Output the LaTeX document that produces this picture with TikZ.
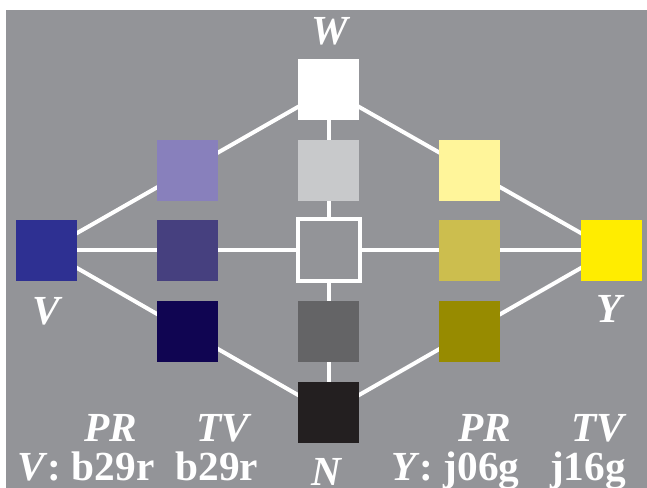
\documentclass[tikz,border=0pt]{standalone}
\usepackage{fontspec}
\setmainfont{Liberation Serif}
\usetikzlibrary{positioning,backgrounds}

\definecolor{bggray}{HTML}{939498}
\definecolor{vblue}{HTML}{2E3092}
\definecolor{vlight}{HTML}{8880BC}
\definecolor{vmid}{HTML}{46407F}
\definecolor{vdark}{HTML}{100552}
\definecolor{nlight}{HTML}{C8C9CB}
\definecolor{ndark}{HTML}{646466}
\definecolor{nblack}{HTML}{231F20}
\definecolor{ylight}{HTML}{FFF59A}
\definecolor{ymid}{HTML}{CCBE4E}
\definecolor{ydark}{HTML}{978B00}
\definecolor{yyellow}{HTML}{FFED00}

\begin{document}
\begin{tikzpicture}[x=0.75pt, y=-0.75pt,
    every node/.style={text=white, font=\fontsize{31}{36}\selectfont\bfseries},
    patch/.style={minimum size=45.75pt, inner sep=0pt, outer sep=0pt},
    hole/.style={draw=white, fill=bggray, line width=3pt, minimum size=46.5pt, inner sep=0pt},
    link/.style={draw=white, line width=3pt},
    lbl/.style={anchor=base, inner sep=0pt}
    ]
\useasboundingbox (0,0) rectangle (647,488);
% \draw[help lines] (0,0) grid (647,488);

% the three corners and the black point
\node[patch, fill=white]   (W) at (328.5,89.5)  {};
\node[patch, fill=vblue]   (V) at (46.5,250.5)  {};
\node[patch, fill=yyellow] (Y) at (611.5,250.5) {};
\node[patch, fill=nblack]  (N) at (328.5,412.5) {};

% blue side
\node[patch, fill=vlight] (v1) at (187.5,170.5) {};
\node[patch, fill=vmid]   (v2) at (187.5,250.5) {};
\node[patch, fill=vdark]  (v3) at (187.5,331.5) {};

% neutral column
\node[patch, fill=nlight] (n1) at (328.5,170.5) {};
\node[hole]               (n2) at (328.5,250.5) {};
\node[patch, fill=ndark]  (n3) at (328.5,331.5) {};

% yellow side
\node[patch, fill=ylight] (y1) at (469.5,170.5) {};
\node[patch, fill=ymid]   (y2) at (469.5,250.5) {};
\node[patch, fill=ydark]  (y3) at (469.5,331.5) {};

\begin{scope}[on background layer]
\fill[bggray] (6,10) rectangle (647,488);
\draw[link] (W.center) -- (V.center);
\draw[link] (W.center) -- (Y.center);
\draw[link] (V.center) -- (N.center);
\draw[link] (Y.center) -- (N.center);
\draw[link] (V.center) -- (Y.center);
\draw[link] (W.center) -- (N.center);
\end{scope}

% letters
\node[lbl] (Wl) at (330,45)  {\itshape W};
\node[lbl] (Vl) at (46,325)  {\itshape V};
\node[lbl] (Yl) at (609,323) {\itshape Y};
\node[lbl] (Nl) at (326,486) {\itshape N};

% codes
\node[lbl] (vpr) at (111,442) {\itshape PR};
\node[lbl] (vtv) at (223,442) {\itshape TV};
\node[lbl, anchor=base west] (vcode) at (17,481) {\textit{V}: b29r};
\node[lbl] (vtvc) at (217,481) {b29r};

\node[lbl] (ypr) at (485,442) {\itshape PR};
\node[lbl] (ytv) at (598,442) {\itshape TV};
\node[lbl, anchor=base west] (ycode) at (391,481) {\textit{Y}: j06g};
\node[lbl] (ytvc) at (588,481) {j16g};
\end{tikzpicture}
\end{document}
